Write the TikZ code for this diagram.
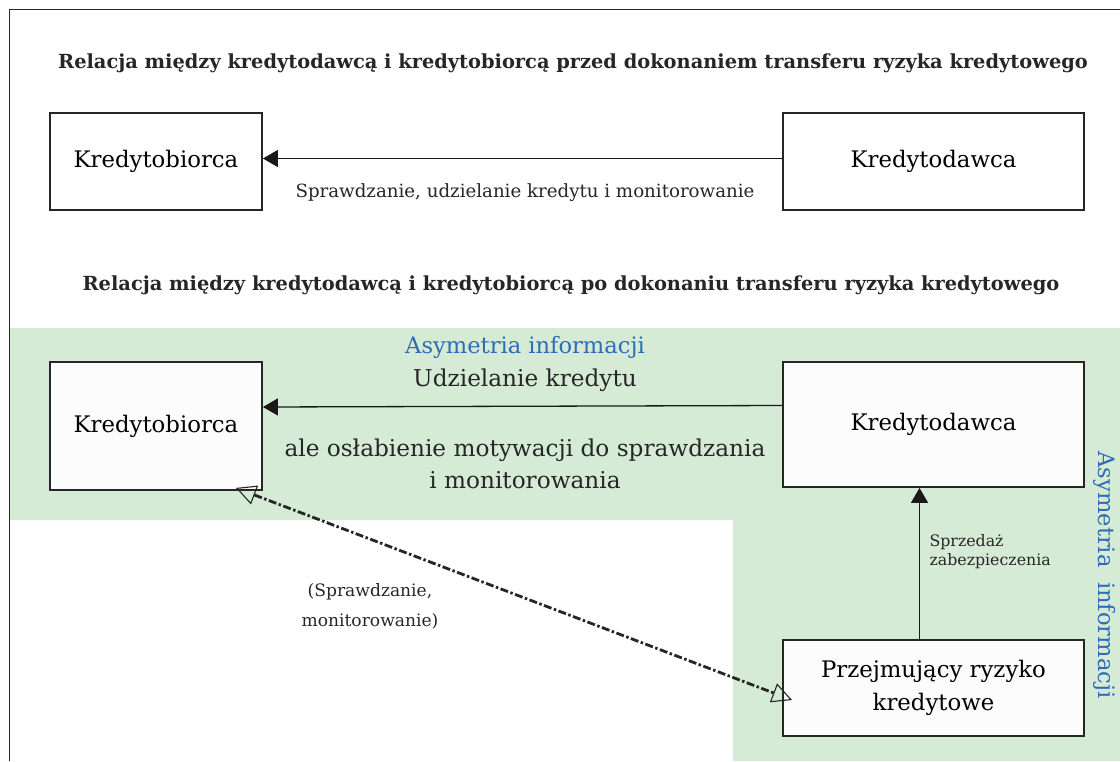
\documentclass[tikz,border=0pt]{standalone}
\usepackage{fontspec}
\setmainfont{DejaVu Serif}
\usetikzlibrary{arrows.meta}
\definecolor{asymgreen}{RGB}{214,235,214}
\definecolor{asymblue}{RGB}{46,109,180}
\begin{document}
\begin{tikzpicture}[x=1pt, y=-1pt, >={Triangle[length=15pt,width=17pt]},
          party/.style={draw=black!85, line width=1.8pt, align=center, inner sep=0pt, font=\fontsize{22.8}{33}\selectfont},
          narrowbox/.style={party, minimum width=212pt},
          widebox/.style={party, minimum width=301pt},
          heading/.style={font=\fontsize{19.4}{22}\selectfont\bfseries, text=black!85},
          lbl/.style={align=center, text=black!85, font=\fontsize{23.2}{32}\selectfont},
          smalllbl/.style={align=center, text=black!85, font=\fontsize{18.2}{30}\selectfont},
          conn/.style={draw=black!90, line width=1.3pt},
          dashconn/.style={draw=black!85, line width=2.8pt, dash pattern=on 8pt off 2.5pt on 2.5pt off 2.5pt,
            {Triangle[open, length=20pt, width=20pt, line width=1.1pt]}-{Triangle[open, length=20pt, width=20pt, line width=1.1pt]}}]
        \useasboundingbox (0,0) rectangle (1120,761);
        % tlo: obszar asymetrii informacji
        \fill[asymgreen] (9,328) -- (1120,328) -- (1120,761) -- (733,761) -- (733,520) -- (9,520) -- cycle;
        \draw[line width=1pt, black!85] (9,761) -- (9,9) -- (1120,9);
        % przed transferem
        \node[heading] (hdrBefore) at (573,63) {Relacja między kredytodawcą i kredytobiorcą przed dokonaniem transferu ryzyka kredytowego};
        \node[narrowbox, minimum height=97pt, fill=white] (borrowerA) at (156,161.5) {Kredytobiorca};
        \node[widebox, minimum height=97pt, fill=white] (lenderA) at (933.5,161.5) {Kredytodawca};
        \node[smalllbl] (lblCheck) at (525,193) {Sprawdzanie, udzielanie kredytu i monitorowanie};
        \draw[conn, ->] ([yshift=3pt]lenderA.west) -- ([yshift=3pt]borrowerA.east);
        % po transferze
        \node[heading] (hdrAfter) at (571,285) {Relacja między kredytodawcą i kredytobiorcą po dokonaniu transferu ryzyka kredytowego};
        \node[narrowbox, minimum height=128pt, fill=black!1] (borrowerB) at (156,426) {Kredytobiorca};
        \node[widebox, minimum height=125pt, fill=black!1] (lenderB) at (933.5,424.5) {Kredytodawca};
        \node[widebox, minimum height=96pt, fill=black!1] (taker) at (933.5,688) {Przejmujący ryzyko\\kredytowe};
        \node[lbl, text=asymblue, font=\fontsize{22.6}{30}\selectfont] (asymTop) at (525,347) {Asymetria informacji};
        \node[lbl] (lblGrant) at (525,380) {Udzielanie kredytu};
        \node[lbl] (lblWeak) at (525,464) {ale osłabienie motywacji do sprawdzania\\i monitorowania};
        \node[lbl, text=asymblue, rotate=-90, font=\fontsize{22.6}{30}\selectfont] (asymSide) at (1105,575) {Asymetria\ \ informacji};
        \node[smalllbl, align=left, anchor=west, font=\fontsize{15.8}{19}\selectfont] (lblSale) at (926,552) {Sprzedaż\\zabezpieczenia};
        \node[smalllbl, font=\fontsize{17.1}{30}\selectfont] (lblMonitor) at (370,606) {(Sprawdzanie,\\monitorowanie)};
        \draw[conn, ->] ([yshift=19pt]lenderB.west) -- ([yshift=19pt]borrowerB.east);
        \draw[conn, ->] ([xshift=-14pt]taker.north) -- ([xshift=-14pt]taker.north |- lenderB.south);
        \draw[dashconn] ([xshift=-27pt,yshift=3pt]borrowerB.south east) -- ([xshift=10pt,yshift=-12pt]taker.west);
      \end{tikzpicture}
\end{document}
